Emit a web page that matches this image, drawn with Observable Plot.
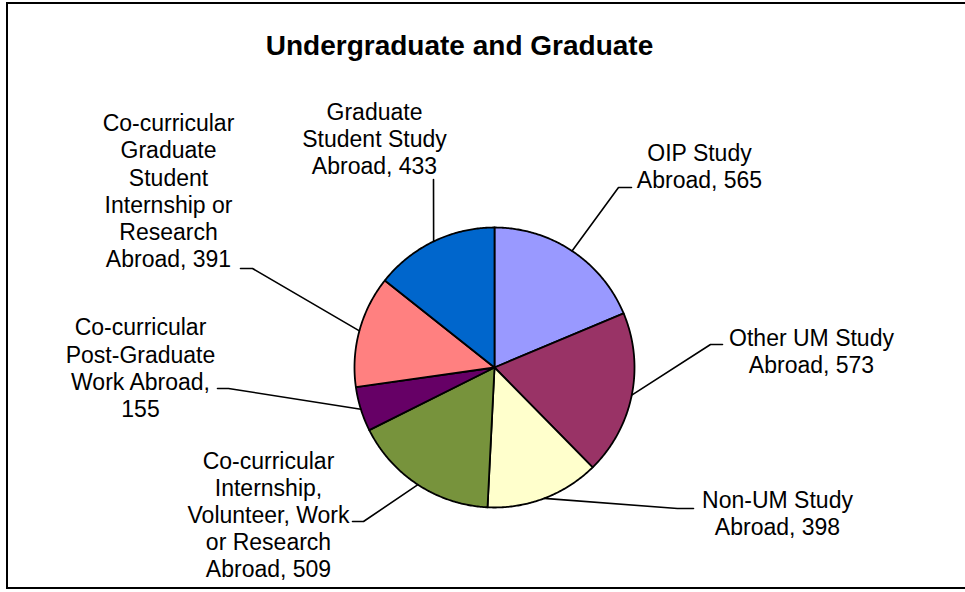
<!DOCTYPE html>
<html><head><meta charset="utf-8">
<script src="https://cdn.jsdelivr.net/npm/d3@7"></script>
<script src="https://cdn.jsdelivr.net/npm/@observablehq/plot@0.6"></script>
<style>
html,body{margin:0;padding:0;background:#fff;overflow:hidden;}
#wrap{position:relative;width:965px;height:592px;overflow:hidden;}
#wrap svg{position:absolute;left:0;top:0;}
#border{position:absolute;left:6px;top:2px;width:1000px;height:587px;border:2px solid #000;border-right:none;box-sizing:border-box;pointer-events:none;}
</style></head><body><div id="wrap"><div id="border"></div></div>
<script>
// ---- data ----
const title = "Undergraduate and Graduate";
const categories = [
  "OIP Study Abroad",
  "Other UM Study Abroad",
  "Non-UM Study Abroad",
  "Co-curricular Internship, Volunteer, Work or Research Abroad",
  "Co-curricular Post-Graduate Work Abroad",
  "Co-curricular Graduate Student Internship or Research Abroad",
  "Graduate Student Study Abroad"
];
const values = [565, 573, 398, 509, 155, 391, 433];
const labelTemplates = [
  "OIP Study\nAbroad, {v}",
  "Other UM Study\nAbroad, {v}",
  "Non-UM Study\nAbroad, {v}",
  "Co-curricular\nInternship,\nVolunteer, Work\nor Research\nAbroad, {v}",
  "Co-curricular\nPost-Graduate\nWork Abroad,\n{v}",
  "Co-curricular\nGraduate\nStudent\nInternship or\nResearch\nAbroad, {v}",
  "Graduate\nStudent Study\nAbroad, {v}"
];
const colors = ["#9999FF", "#993366", "#FFFFCC", "#77933C", "#660066", "#FF8080", "#0066CC"];

// ---- layout (pixels) ----
const CX = 494, CY = 367, R = 140;
const labelLayout = [
  {tx: 699, ty: 165, elbow: [618, 187], end: [631, 187]},
  {tx: 811, ty: 350, elbow: [710, 344], end: [722, 344]},
  {tx: 777, ty: 512, elbow: [677, 508], end: [693, 508]},
  {tx: 268, ty: 514, elbow: [363, 521], end: [352, 521]},
  {tx: 140, ty: 367, elbow: [228, 388], end: [217, 388]},
  {tx: 168, ty: 190, elbow: [252, 268], end: [240, 268]},
  {tx: 374, ty: 138, elbow: [433, 179], end: [433, 179]}
];

// ---- geometry via d3.pie ----
const arcs = d3.pie().sort(null).value(d => d)(values);
const slicePts = [];
arcs.forEach((a, i) => {
  slicePts.push({slice: i, x: CX, y: CY});
  const n = Math.max(4, Math.ceil((a.endAngle - a.startAngle) / 0.01));
  for (let k = 0; k <= n; k++) {
    const t = a.startAngle + (a.endAngle - a.startAngle) * k / n;
    slicePts.push({slice: i, x: CX + R * Math.sin(t), y: CY - R * Math.cos(t)});
  }
});
const leaderPts = [];
arcs.forEach((a, i) => {
  const m = (a.startAngle + a.endAngle) / 2;
  const L = labelLayout[i];
  leaderPts.push({id: i, x: CX + R * Math.sin(m), y: CY - R * Math.cos(m)});
  leaderPts.push({id: i, x: L.elbow[0], y: L.elbow[1]});
  leaderPts.push({id: i, x: L.end[0], y: L.end[1]});
});
const labelRows = categories.map((c, i) => ({
  text: labelTemplates[i].replace("{v}", values[i]),
  x: labelLayout[i].tx, y: labelLayout[i].ty
}));

const FONT = "'Liberation Sans', Arial, sans-serif";
const chart = Plot.plot({
  width: 965, height: 592, margin: 0,
  x: {domain: [0, 965], range: [0, 965], axis: null},
  y: {domain: [0, 592], range: [0, 592], axis: null},
  style: {background: "transparent", fontFamily: FONT},
  marks: [
    ...categories.map((c, i) => Plot.line(slicePts.filter(p => p.slice === i), {
      x: "x", y: "y", fill: colors[i], stroke: "#000", strokeWidth: 1.8,
      curve: "linear-closed", strokeLinejoin: "round"
    })),
    Plot.line(leaderPts, {x: "x", y: "y", z: "id", stroke: "#000", strokeWidth: 1.6}),
    Plot.text(labelRows, {x: "x", y: "y", text: "text", fontSize: 23, lineHeight: 1.18, fill: "#000", fontFamily: FONT}),
    Plot.text([title], {x: [459], y: [46], text: d => d, fontSize: 28, fontWeight: "bold", fill: "#000", fontFamily: FONT})
  ]
});
document.getElementById("wrap").insertBefore(chart, document.getElementById("border"));
</script>
</body></html>
